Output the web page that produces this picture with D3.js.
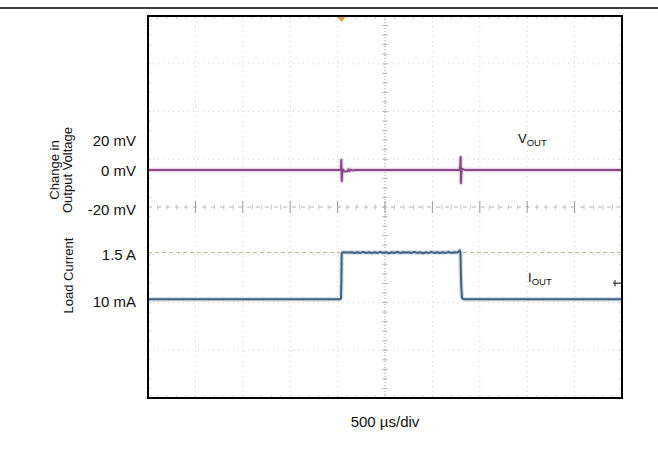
<!DOCTYPE html>
<html><head><meta charset="utf-8">
<script src="https://cdn.jsdelivr.net/npm/d3@7/dist/d3.min.js"></script>
<style>body{margin:0;background:#fff;}svg{display:block;font-family:"Liberation Sans",Arial,sans-serif;}</style>
</head><body>
<svg id="chart" width="658" height="469"></svg>
<script>
// ---- data ----
const timeDomain = [0, 5000];           // µs, 10 div x 500 µs/div
const divDomain = [-4, 4];              // vertical divisions
const timeTicks = [0, 500, 1000, 1500, 2000, 2500, 3000, 3500, 4000, 4500, 5000];
const divTicks = [-4, -3, -2, -1, 0, 1, 2, 3, 4];

// voltage channel (change in output voltage, mV)
const vTickValues = [20, 0, -20];
const vTickLabels = ["20 mV", "0 mV", "-20 mV"];
const vTickDivs = [1.40, 0.775, -0.04];  // where the labels sit on the screen (divisions)

// current channel (A)
const iTickValues = [1.5, 0.01];
const iTickLabels = ["1.5 A", "10 mA"];
const iTickDivs = [-0.955, -1.93];

// VOUT trace
const vTime  = [0, 2030, 2036, 2039, 2041, 2044, 2048, 2056, 2070, 2100, 2115, 2125, 2140, 2160, 2190, 3285, 3293, 3298, 3301, 3304, 3310, 3320, 3335, 3360, 5000];
const vValue = [0, 0,    1.5,  6.7,  -1,   -5.6, -2,   0.4,  -0.8, -0.7, 0.5,  -0.6, 0.3,  -0.2, 0,    0,    2.5,  8.7,  -6.7, -3,   0.9,  0.6,  0.2,  0,    0];

// IOUT trace
const iTime  = [0, 2025, 2036, 2040, 2043, 2046, 2060, 2090, 2120, 2150, 2180, 2210, 2240, 2270, 2300, 2330, 2360, 2390, 2420, 2450, 2480, 2510, 2540, 2570, 2600, 2630, 2660, 2690, 2720, 2750, 2780, 2810, 2840, 2870, 2900, 2930, 2960, 2990, 3020, 3050, 3080, 3110, 3140, 3170, 3200, 3230, 3260, 3280, 3290, 3296, 3300, 3304, 3312, 3330, 5000];
const iValue = [0.01, 0.01, 0.03, 0.6, 1.45, 1.5, 1.51, 1.5, 1.5, 1.51, 1.49, 1.51, 1.49, 1.52, 1.49, 1.51, 1.49, 1.51, 1.49, 1.52, 1.49, 1.51, 1.48, 1.51, 1.49, 1.52, 1.49, 1.51, 1.5, 1.51, 1.49, 1.52, 1.49, 1.51, 1.48, 1.51, 1.49, 1.52, 1.49, 1.51, 1.49, 1.51, 1.49, 1.52, 1.49, 1.51, 1.5, 1.54, 1.57, 1.5, 0.9, 0.45, 0.05, 0.01, 0.01];

const cursorCurrent = 1.5;       // dashed cursor level (A)
const triggerTime = 2041;        // trigger marker position (µs)
const refMarkerCurrent = 0.52;   // channel reference marker on right edge (A)

// ---- layout ----
const svg = d3.select("#chart");
const L = 148, R = 622, T = 16, B = 398;

const x = d3.scaleLinear().domain(timeDomain).range([L, R]);
const yDiv = d3.scaleLinear().domain(divDomain).range([B, T]);
const yV = d3.scaleLinear().domain(vTickValues.slice().reverse()).range(vTickDivs.slice().reverse().map(yDiv));
const yI = d3.scaleLinear().domain(iTickValues).range(iTickDivs.map(yDiv));

// top rule
svg.append("line").attr("x1", 0).attr("x2", 658).attr("y1", 8).attr("y2", 8)
  .attr("stroke", "#000").attr("stroke-width", 1.5);

const grid = svg.append("g");
// major grid lines
timeTicks.slice(1, -1).forEach(t => {
  const c = t === 2500;
  grid.append("line").attr("x1", x(t)).attr("x2", x(t)).attr("y1", T).attr("y2", B)
    .attr("stroke", c ? "#a0a0a0" : "#d4d4d4").attr("stroke-width", 1)
    .attr("stroke-dasharray", c ? "1.2,1.8" : "1,4");
});
divTicks.slice(1, -1).forEach(d => {
  const c = d === 0;
  grid.append("line").attr("x1", L).attr("x2", R).attr("y1", yDiv(d)).attr("y2", yDiv(d))
    .attr("stroke", c ? "#b4b4b4" : "#d6d6d6").attr("stroke-width", 1)
    .attr("stroke-dasharray", c ? "4,5" : "1,4");
});
// ticks on the centre lines and on the border
const minorT = d3.range(0, 5001, 100);
const minorD = d3.range(-4, 4.001, 0.2);
minorT.forEach(t => {
  const major = Math.abs(t % 500) < 1e-6;
  grid.append("line").attr("x1", x(t)).attr("x2", x(t))
    .attr("y1", yDiv(0) - (major ? 6 : 2.5)).attr("y2", yDiv(0) + (major ? 6 : 2.5))
    .attr("stroke", major ? "#9c9c9c" : "#c8c8c8").attr("stroke-width", 1);
  grid.append("line").attr("x1", x(t)).attr("x2", x(t)).attr("y1", T).attr("y2", T + 3)
    .attr("stroke", "#d0d0d0");
  grid.append("line").attr("x1", x(t)).attr("x2", x(t)).attr("y1", B - 3).attr("y2", B)
    .attr("stroke", "#d0d0d0");
});
minorD.forEach(d => {
  grid.append("line").attr("x1", x(2500) - 2.5).attr("x2", x(2500) + 2.5)
    .attr("y1", yDiv(d)).attr("y2", yDiv(d)).attr("stroke", "#b4b4b4");
  grid.append("line").attr("x1", L).attr("x2", L + 3).attr("y1", yDiv(d)).attr("y2", yDiv(d))
    .attr("stroke", "#d0d0d0");
  grid.append("line").attr("x1", R - 3).attr("x2", R).attr("y1", yDiv(d)).attr("y2", yDiv(d))
    .attr("stroke", "#d0d0d0");
});

// cursor line at 1.5 A
svg.append("line").attr("x1", L).attr("x2", R).attr("y1", yI(cursorCurrent)).attr("y2", yI(cursorCurrent))
  .attr("stroke", "#bdb98f").attr("stroke-width", 1).attr("stroke-dasharray", "4,3");

// traces
const vLine = d3.line().x((d, i) => x(vTime[i])).y(d => yV(d));
const iLine = d3.line().x((d, i) => x(iTime[i])).y(d => yI(d));

svg.append("path").attr("d", vLine(vValue)).attr("fill", "none")
  .attr("stroke", "#ecd2ea").attr("stroke-width", 4.5).attr("stroke-linejoin", "round");
svg.append("path").attr("d", vLine(vValue)).attr("fill", "none")
  .attr("stroke", "#864a84").attr("stroke-width", 2).attr("stroke-linejoin", "round");

svg.append("path").attr("d", iLine(iValue)).attr("fill", "none")
  .attr("stroke", "#cfe0ef").attr("stroke-width", 4.5).attr("stroke-linejoin", "round");
svg.append("path").attr("d", iLine(iValue)).attr("fill", "none")
  .attr("stroke", "#45617a").attr("stroke-width", 2).attr("stroke-linejoin", "round");

// trigger marker (top)
const tx = x(triggerTime);
svg.append("path").attr("d", `M${tx - 4},${T + 1}L${tx + 4},${T + 1}L${tx},${T + 6}Z`)
  .attr("fill", "#e39a3a");
// reference marker (right)
const ry = yI(refMarkerCurrent);
svg.append("line").attr("x1", R - 9).attr("x2", R).attr("y1", ry).attr("y2", ry)
  .attr("stroke", "#555").attr("stroke-width", 1.5);
svg.append("line").attr("x1", R - 7).attr("x2", R - 7).attr("y1", ry - 3).attr("y2", ry + 3)
  .attr("stroke", "#555").attr("stroke-width", 1.5);

// plot border
svg.append("rect").attr("x", L).attr("y", T).attr("width", R - L).attr("height", B - T)
  .attr("fill", "none").attr("stroke", "#000").attr("stroke-width", 2);

// tick labels
const lab = svg.append("g").attr("font-size", 15).attr("fill", "#111").attr("text-anchor", "end");
vTickLabels.forEach((s, i) => {
  lab.append("text").attr("x", 136).attr("y", yV(vTickValues[i])).attr("dy", "0.4em").text(s);
});
iTickLabels.forEach((s, i) => {
  lab.append("text").attr("x", 136).attr("y", yI(iTickValues[i])).attr("dy", "0.5em").text(s);
});

// axis titles (rotated)
function rot(txt, cx, cy) {
  svg.append("text").attr("transform", `translate(${cx},${cy}) rotate(-90)`)
    .attr("text-anchor", "middle").attr("font-size", 13).attr("fill", "#111").text(txt);
}
rot("Change in", 59, 170);
rot("Output Voltage", 72, 170);
rot("Load Current", 73, 275.5);

// trace labels
function sublabel(main, sub, lx, ly) {
  const t = svg.append("text").attr("x", lx).attr("y", ly).attr("font-size", 13).attr("fill", "#111");
  t.append("tspan").text(main);
  t.append("tspan").attr("font-size", 9.5).attr("dy", 3).text(sub);
}
sublabel("V", "OUT", 518, 143);
sublabel("I", "OUT", 528, 282);

// x caption
svg.append("text").attr("x", (L + R) / 2).attr("y", 427).attr("text-anchor", "middle")
  .attr("font-size", 15).attr("fill", "#111").text("500 µs/div");
</script>
</body></html>
